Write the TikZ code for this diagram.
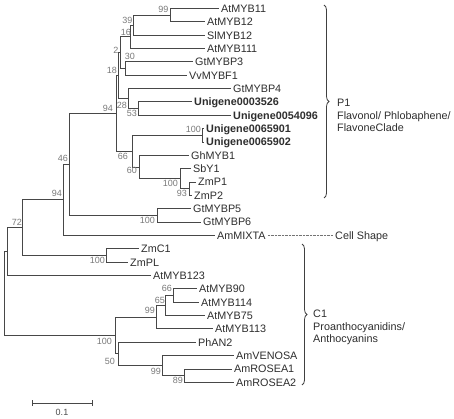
\documentclass[tikz,border=0pt]{standalone}
\usepackage{fontspec}
\setmainfont{Liberation Sans}
\usetikzlibrary{decorations.pathreplacing}
\begin{document}
\begin{tikzpicture}[x=1pt,y=-1pt,
  branch/.style={draw=black!72, line width=0.9pt},
  leaf/.style={anchor=west, inner xsep=2pt, inner ysep=0pt, text height=7.7pt, text depth=0pt, text=black!82, font=\fontsize{10.8}{12}\selectfont},
  uleaf/.style={leaf, font=\fontsize{10.8}{12}\selectfont\bfseries},
  boot/.style={anchor=east, inner sep=0pt, text height=6.4pt, text depth=0pt, text=black!52, font=\fontsize{9}{10}\selectfont},
  clade/.style={anchor=north west, align=left, inner sep=0pt, text=black!82, font=\fontsize{10.8}{12.5}\selectfont},
  cladebrace/.style={draw=black!75, line width=0.8pt, decorate, decoration={brace, amplitude=5pt}},
  dotline/.style={draw=black!55, line width=0.6pt, dash pattern=on 0.7pt off 0.7pt},
  scalebar/.style={draw=black!72, line width=0.9pt}
]
\fill[white] (0,0) rectangle (454,419);
\useasboundingbox (0,0) rectangle (454,419);

% leaves
\node[leaf]  (L1)  at (219, 8.5)   {AtMYB11};
\node[leaf]  (L2)  at (205, 21.85) {AtMYB12};
\node[leaf]  (L3)  at (205, 35.2)  {SlMYB12};
\node[leaf]  (L4)  at (205, 48.55) {AtMYB111};
\node[leaf]  (L5)  at (193, 61.9)  {GtMYBP3};
\node[leaf]  (L6)  at (187, 75.25) {VvMYBF1};
\node[leaf]  (L7)  at (231, 88.6)  {GtMYBP4};
\node[uleaf] (L8)  at (192, 101.95){Unigene0003526};
\node[uleaf] (L9)  at (231, 115.3) {Unigene0054096};
\node[uleaf] (L10) at (204, 128.65){Unigene0065901};
\node[uleaf] (L11) at (204, 142.0) {Unigene0065902};
\node[leaf]  (L12) at (189, 155.35){GhMYB1};
\node[leaf]  (L13) at (191, 168.7) {SbY1};
\node[leaf]  (L14) at (196, 182.05){ZmP1};
\node[leaf]  (L15) at (192, 195.4) {ZmP2};
\node[leaf]  (L16) at (191, 208.75){GtMYBP5};
\node[leaf]  (L17) at (201, 222.1) {GtMYBP6};
\node[leaf]  (L18) at (215, 235.45){AmMIXTA};
\node[leaf]  (L19) at (139, 248.8) {ZmC1};
\node[leaf]  (L20) at (128, 262.15){ZmPL};
\node[leaf]  (L21) at (151, 275.5) {AtMYB123};
\node[leaf]  (L22) at (197, 288.85){AtMYB90};
\node[leaf]  (L23) at (199, 302.2) {AtMYB114};
\node[leaf]  (L24) at (205, 315.55){AtMYB75};
\node[leaf]  (L25) at (213, 328.9) {AtMYB113};
\node[leaf]  (L26) at (196, 342.25){PhAN2};
\node[leaf]  (L27) at (234, 355.6) {AmVENOSA};
\node[leaf]  (L28) at (232, 368.95){AmROSEA1};
\node[leaf]  (L29) at (234, 382.3) {AmROSEA2};

% internal nodes
\coordinate (n99)   at (170, 15.18);
\coordinate (n39)   at (133, 25.19);
\coordinate (n16)   at (130, 36.87);
\coordinate (n30)   at (125, 68.58);
\coordinate (n2)    at (120, 52.72);
\coordinate (n53)   at (138, 108.63);
\coordinate (n28)   at (128, 98.61);
\coordinate (n18)   at (118, 75.67);
\coordinate (nU)    at (202, 135.33);
\coordinate (n93)   at (189, 188.73);
\coordinate (nS)    at (180, 178.71);
\coordinate (n60)   at (139, 167.03);
\coordinate (n66)   at (132, 151.18);
\coordinate (n94)   at (116, 113.42);
\coordinate (nG)    at (157, 215.43);
\coordinate (n46)   at (69, 164.42);
\coordinate (n94b)  at (63, 199.94);
\coordinate (nZ)    at (106, 255.48);
\coordinate (n72)   at (22, 227.71);
\coordinate (nA)    at (7, 251.6);
\coordinate (n66b)  at (173, 295.53);
\coordinate (n65)   at (165, 305.54);
\coordinate (n99a)  at (156, 317.22);
\coordinate (n89)   at (184, 375.63);
\coordinate (n99b)  at (162, 365.61);
\coordinate (n50)   at (118, 353.93);
\coordinate (n100e) at (115, 335.58);
\coordinate (root)  at (4, 293.59);

\path[branch]
 (n99) |- (L1.west) (n99) |- (L2.west)
 (n39) |- (n99) (n39) |- (L3.west)
 (n16) |- (n39) (n16) |- (L4.west)
 (n30) |- (L5.west) (n30) |- (L6.west)
 (n2) |- (n16) (n2) |- (n30)
 (n53) |- (L8.west) (n53) |- (L9.west)
 (n28) |- (L7.west) (n28) |- (n53)
 (n18) |- (n2) (n18) |- (n28)
 (nU) |- (L10.west) (nU) |- (L11.west)
 (n93) |- (L14.west) (n93) |- (L15.west)
 (nS) |- (L13.west) (nS) |- (n93)
 (n60) |- (L12.west) (n60) |- (nS)
 (n66) |- (nU) (n66) |- (n60)
 (n94) |- (n18) (n94) |- (n66)
 (nG) |- (L16.west) (nG) |- (L17.west)
 (n46) |- (n94) (n46) |- (nG)
 (n94b) |- (n46) (n94b) |- (L18.west)
 (nZ) |- (L19.west) (nZ) |- (L20.west)
 (n72) |- (n94b) (n72) |- (nZ)
 (nA) |- (n72) (nA) |- (L21.west)
 (n66b) |- (L22.west) (n66b) |- (L23.west)
 (n65) |- (n66b) (n65) |- (L24.west)
 (n99a) |- (n65) (n99a) |- (L25.west)
 (n89) |- (L28.west) (n89) |- (L29.west)
 (n99b) |- (L27.west) (n99b) |- (n89)
 (n50) |- (L26.west) (n50) |- (n99b)
 (n100e) |- (n99a) (n100e) |- (n50)
 (root) |- (nA) (root) |- (n100e);

% bootstrap values
\node[boot] (b1)  at (168.5, 9.5)  {99};
\node[boot] (b2)  at (132.5, 20.5) {39};
\node[boot] (b3)  at (131, 32.5)   {16};
\node[boot] (b4)  at (118.5, 50)   {2};
\node[boot] (b5)  at (135, 56)     {30};
\node[boot] (b6)  at (117, 70)     {18};
\node[boot] (b7)  at (113, 108.5)  {94};
\node[boot] (b8)  at (127, 105)    {28};
\node[boot] (b9)  at (137, 113.5)  {53};
\node[boot] (b10) at (201, 129)    {100};
\node[boot] (b11) at (128, 156.5)  {66};
\node[boot] (b12) at (137, 170.5)  {60};
\node[boot] (b13) at (178, 183.5)  {100};
\node[boot] (b14) at (187, 193.5)  {93};
\node[boot] (b15) at (68, 158.5)   {46};
\node[boot] (b16) at (155, 220.5)  {100};
\node[boot] (b17) at (62, 193.5)   {94};
\node[boot] (b18) at (22, 222)     {72};
\node[boot] (b19) at (105, 260)    {100};
\node[boot] (b20) at (172, 288)    {66};
\node[boot] (b21) at (165, 300)    {65};
\node[boot] (b22) at (155, 310)    {99};
\node[boot] (b23) at (112, 341.5)  {100};
\node[boot] (b24) at (115, 361)    {50};
\node[boot] (b25) at (161, 371)    {99};
\node[boot] (b26) at (183, 380.5)  {89};

% clade braces and labels
\coordinate (p1top) at (324, 5);
\coordinate (p1bot) at (324, 198);
\draw[cladebrace] (p1top) -- (p1bot);
\node[clade] (p1lbl) at (337, 99.2) {P1\\Flavonol/ Phlobaphene/\\FlavoneClade};

\coordinate (c1top) at (302, 244);
\coordinate (c1bot) at (302, 385);
\draw[cladebrace] (c1top) -- (c1bot);
\node[clade] (c1lbl) at (313, 310.2) {C1\\Proanthocyanidins/\\Anthocyanins};

\node[leaf] (cell) at (333, 235.45) {Cell Shape};
\draw[dotline] (L18.east) -- (cell.west);

% scale bar
\coordinate (sb1) at (32, 403);
\coordinate (sb2) at (92, 403);
\draw[scalebar] (sb1) -- (sb2);
\draw[scalebar] ([yshift=-3pt]sb1) -- ([yshift=3pt]sb1);
\draw[scalebar] ([yshift=-3pt]sb2) -- ([yshift=3pt]sb2);
\node[boot, anchor=center, text=black!70] (sblbl) at (62, 412) {0.1};
\end{tikzpicture}
\end{document}
